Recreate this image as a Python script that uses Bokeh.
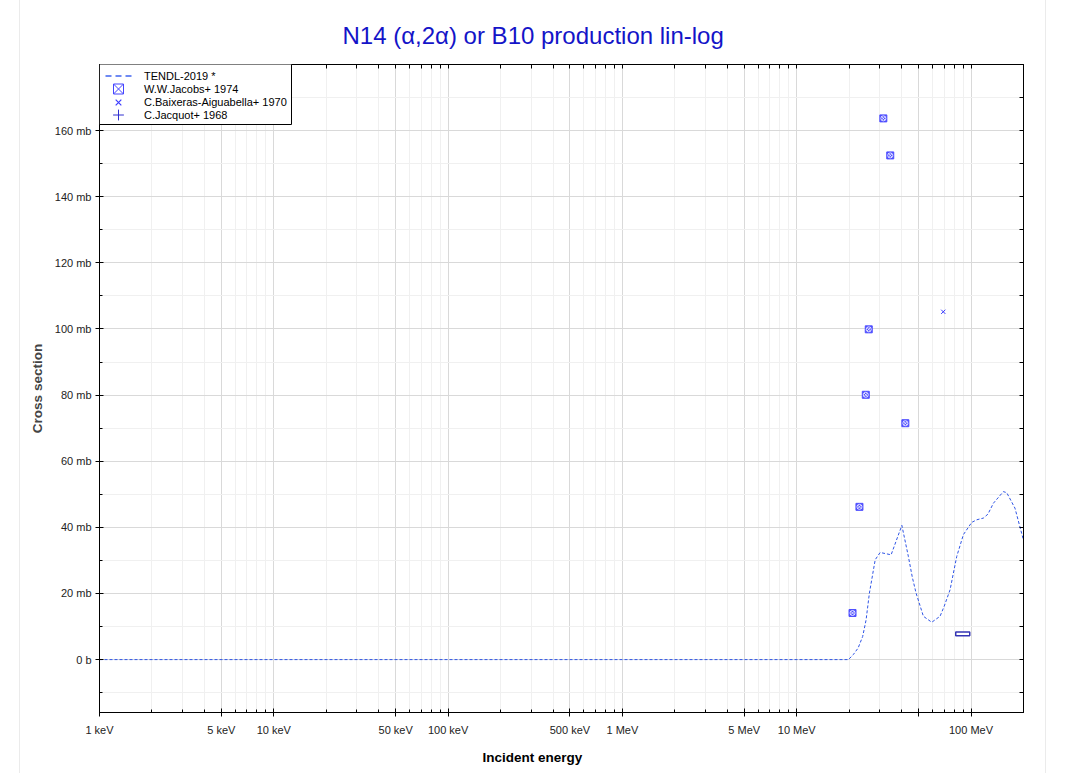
from bokeh.plotting import figure
from bokeh.models import (FixedTicker, LogAxis, LinearAxis, Legend, LegendItem,
                          Title, ColumnDataSource, Range1d, BoxAnnotation)
from bokeh.embed import file_html
from bokeh.resources import INLINE

FONT = "Liberation Sans"

# ---------------- data (energies in eV, cross sections in mb) ----------------
tendl_e = [1e3, 19.8e6, 21.1e6, 22.5e6, 23.9e6, 25.0e6, 26.1e6, 28.2e6, 30.1e6,
           34.8e6, 40.1e6, 43.7e6, 46.0e6, 48.4e6, 53.3e6, 59.5e6, 66.4e6,
           70.0e6, 75.8e6, 82.8e6, 90.4e6, 100.9e6, 108.0e6, 117.7e6, 125.0e6,
           134.4e6, 153.2e6, 160.2e6, 178.7e6, 199.5e6]
tendl_xs = [0.0, 0.0, 1.5, 3.5, 7.0, 12.0, 20.0, 30.2, 32.4,
            31.7, 40.6, 31.2, 25.0, 20.1, 13.1, 11.3, 13.1,
            16.0, 21.1, 31.2, 37.8, 41.5, 42.3, 42.8, 44.0,
            47.3, 50.8, 50.5, 45.8, 36.3]

jacobs_e = [20.9e6, 22.9e6, 24.9e6, 25.9e6, 31.4e6, 34.4e6, 42.0e6]
jacobs_xs = [14.1, 46.2, 80.1, 99.9, 163.7, 152.5, 71.5]

baixeras_e = [69.3e6]
baixeras_xs = [105.2]

jacquot_e = [90.0e6]
jacquot_de = [8.3e6]
jacquot_xs = [7.8]
jacquot_dxs = [0.55]

x_major = [1e3, 5e3, 1e4, 5e4, 1e5, 5e5, 1e6, 5e6, 1e7, 5e7, 1e8]
x_labels = ["1 keV", "5 keV", "10 keV", "50 keV", "100 keV", "500 keV",
            "1 MeV", "5 MeV", "10 MeV", "", "100 MeV"]
x_minor = [m * 10 ** k for k in range(3, 9) for m in (2, 3, 4, 6, 7, 8, 9)
           if m * 10 ** k <= 2e8]

y_major = [0, 20, 40, 60, 80, 100, 120, 140, 160]
y_labels = ["0 b", "20 mb", "40 mb", "60 mb", "80 mb", "100 mb", "120 mb",
            "140 mb", "160 mb"]
y_minor = [-10, 10, 30, 50, 70, 90, 110, 130, 150, 170]

# ---------------- figure ----------------
p = figure(width=1027, height=773, x_axis_type="log",
           x_range=Range1d(1e3, 2e8), y_range=Range1d(-16, 180),
           output_backend="svg", toolbar_location=None,
           min_border_left=79, min_border_right=24,
           min_border_top=64, min_border_bottom=60,
           styles={"margin-left": "19px",
                   "border-left": "1px solid #ebebeb",
                   "border-right": "1px solid #ebebeb"})
p.background_fill_color = "white"
p.border_fill_color = "white"
p.outline_line_color = "black"
p.outline_line_width = 1

p.title.text = "N14 (\u03b1,2\u03b1) or B10 production lin-log"
p.title.align = "left"
p.title.offset = 243
p.title.standoff = 32
p.title.text_font = FONT
p.title.text_font_size = "24px"
p.title.text_font_style = "normal"
p.title.text_color = "#1414c8"

xt = FixedTicker(ticks=x_major, minor_ticks=x_minor)
yt = FixedTicker(ticks=y_major, minor_ticks=y_minor)

xax = p.xaxis[0]
xax.ticker = xt
xax.major_label_overrides = {float(v): s for v, s in zip(x_major, x_labels)}
yax = p.yaxis[0]
yax.ticker = yt
yax.major_label_overrides = {v: s for v, s in zip(y_major, y_labels)}
yax.axis_label = "Cross section"
yax.axis_label_text_font = FONT
yax.axis_label_text_font_size = "13.5px"
yax.axis_label_text_font_style = "bold"
yax.axis_label_standoff = 7

for ax in (xax, yax):
    ax.axis_line_color = "black"
    ax.major_tick_line_color = "black"
    ax.minor_tick_line_color = "black"
    ax.major_tick_in = 4
    ax.major_tick_out = 4
    ax.minor_tick_in = 3
    ax.minor_tick_out = 0
    ax.major_label_text_font = FONT
    ax.major_label_text_font_size = "11px"
    ax.major_label_text_color = "#222222"
xax.major_label_standoff = 7
yax.major_label_standoff = 4

# top / right axes: ticks only (all as minor ticks, so no labels are drawn)
xt_top = FixedTicker(ticks=[], minor_ticks=sorted(x_major + x_minor))
yt_right = FixedTicker(ticks=[], minor_ticks=sorted(y_major + y_minor))
top = LogAxis(ticker=xt_top, minor_tick_in=4, minor_tick_out=0,
              major_tick_in=0, major_tick_out=0, major_label_standoff=0,
              axis_line_color="black", minor_tick_line_color="black")
right = LinearAxis(ticker=yt_right, minor_tick_in=4, minor_tick_out=0,
                   major_tick_in=0, major_tick_out=0, major_label_standoff=0,
                   axis_line_color="black", minor_tick_line_color="black")
p.add_layout(top, "above")
p.add_layout(right, "right")

xlabel = Title(text="Incident energy", align="left", offset=383, standoff=18,
               text_font=FONT, text_font_size="13.5px",
               text_font_style="bold", text_color="black")
p.add_layout(xlabel, "below")

p.xgrid.ticker = xt
p.ygrid.ticker = yt
for g in (p.xgrid[0], p.ygrid[0]):
    g.grid_line_color = "#d9d9d9"
    g.grid_line_width = 1
    g.minor_grid_line_color = "#f0f0f0"
    g.minor_grid_line_width = 1

# ---------------- glyphs ----------------
p.line(tendl_e, tendl_xs, line_color="#2f55e6", line_width=1, line_dash="3 2")

jq_src = ColumnDataSource(dict(
    left=[e - d for e, d in zip(jacquot_e, jacquot_de)],
    right=[e + d for e, d in zip(jacquot_e, jacquot_de)],
    bottom=[s - d for s, d in zip(jacquot_xs, jacquot_dxs)],
    top=[s + d for s, d in zip(jacquot_xs, jacquot_dxs)]))
p.quad(left="left", right="right", bottom="bottom", top="top", source=jq_src,
       fill_color="white", line_color="#3434b4", line_width=1.5)

p.scatter(jacobs_e, jacobs_xs, marker="square", size=7,
          fill_color="#4f4fff", line_color="#4f4fff")
p.scatter(jacobs_e, jacobs_xs, marker="circle_x", size=5,
          fill_color=None, line_color="white", line_width=0.8)
p.scatter(baixeras_e, baixeras_xs, marker="x", size=6,
          line_color="#3a3aff", line_width=1)

# legend-only renderers (hidden in the plot, shown as legend glyphs)
l1 = p.line(tendl_e, tendl_xs, line_color="#3f63f0", line_width=1.5,
            line_dash="0 6 6 4 6 4 6 6", visible=False)
l2 = p.scatter(jacobs_e, jacobs_xs, marker="square_x", fill_color=None,
               line_color="#4444ff", line_width=1, visible=False)
l3 = p.scatter(baixeras_e, baixeras_xs, marker="x", line_color="#3c3cff",
               line_width=1.2, visible=False)
l4 = p.scatter(jacquot_e, jacquot_xs, marker="cross", line_color="#3030d0",
               line_width=1, visible=False)

# legend frame (screen units, relative to the plot frame)
FRAME_H = 649
p.add_layout(BoxAnnotation(left=0, right=192, top=FRAME_H, bottom=FRAME_H - 61,
                           left_units="screen", right_units="screen",
                           top_units="screen", bottom_units="screen",
                           fill_color="white", fill_alpha=1,
                           line_color="black", line_width=1, line_alpha=1))

# one legend per entry so every marker can get its own glyph size
entries = [("TENDL-2019 *", l1, 13, 76.5),
           ("W.W.Jacobs+ 1974", l2, 25, 89.5),
           ("C.Baixeras-Aiguabella+ 1970", l3, 20, 102.5),
           ("C.Jacquot+ 1968", l4, 27, 115.5)]
for label, r, gh, yc in entries:
    lg = Legend(items=[LegendItem(label=label, renderers=[r])],
                location=(0, FRAME_H - (yc - 64) - gh / 2))
    lg.border_line_color = None
    lg.background_fill_alpha = 0
    lg.label_text_font = FONT
    lg.label_text_font_size = "11px"
    lg.label_text_color = "black"
    lg.glyph_width = 38
    lg.glyph_height = gh
    lg.label_height = gh
    lg.label_standoff = 7
    lg.spacing = 0
    lg.padding = 0
    lg.margin = 0
    p.add_layout(lg)

open("out.html", "w").write(file_html(p, INLINE))
